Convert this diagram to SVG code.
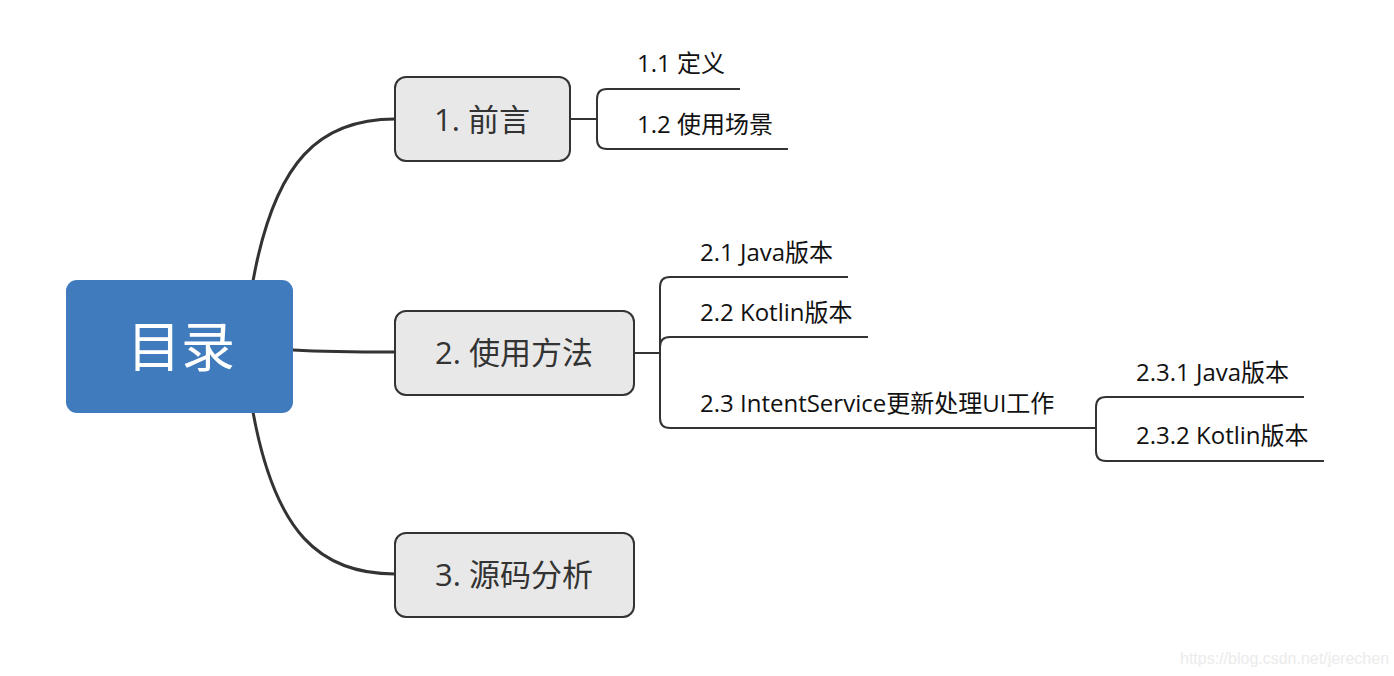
<svg xmlns="http://www.w3.org/2000/svg" width="1394" height="676" viewBox="0 0 1394 676">
<style>
.main{fill:none;stroke:#333333;stroke-width:3;stroke-linecap:round}
.sub{fill:none;stroke:#333333;stroke-width:2}
.box{fill:#e8e8e8;stroke:#333333;stroke-width:2}
.t1{font-family:"Open Sans","Noto Sans CJK SC",sans-serif;font-size:31px;fill:#333333;text-anchor:middle}
.t2{font-family:"Open Sans","Noto Sans CJK SC",sans-serif;font-size:24px;fill:#111111}
</style>
<rect width="1394" height="676" fill="#ffffff"/>
<g id="connectors">
<path class="main" d="M253,281 C275,160 320,119 395,119"/>
<path class="main" d="M293,350 C330,352 360,352 395,352"/>
<path class="main" d="M253,412 C275,533 320,574 395,574"/>
<path class="sub" d="M570,119 H597"/>
<path class="sub" d="M740,89 H607 Q597,89 597,99 V139 Q597,149 607,149 H788"/>
<path class="sub" d="M634,353 H660"/>
<path class="sub" d="M848,277 H670 Q660,277 660,287 V418 Q660,428 670,428 H1096"/>
<path class="sub" d="M868,337 H670 Q660,337 660,347"/>
<path class="sub" d="M1304,397 H1106 Q1096,397 1096,407 V451 Q1096,461 1106,461 H1324"/>
</g>
<g id="root">
<rect x="66" y="280" width="227" height="133" rx="11" fill="#3f7bbd"/>
<text x="181" y="367" font-family="'Noto Sans CJK SC',sans-serif" font-size="54" fill="#ffffff" text-anchor="middle">目录</text>
</g>
<g id="n1">
<rect class="box" x="395" y="77" width="175" height="84" rx="11"/>
<text class="t1" x="482" y="131">1. 前言</text>
</g>
<g id="n2">
<rect class="box" x="395" y="311" width="239" height="84" rx="11"/>
<text class="t1" x="514" y="364">2. 使用方法</text>
</g>
<g id="n3">
<rect class="box" x="395" y="533" width="239" height="84" rx="11"/>
<text class="t1" x="514" y="586">3. 源码分析</text>
</g>
<g id="n1_1"><text class="t2" x="637" y="72">1.1 定义</text></g>
<g id="n1_2"><text class="t2" x="637" y="133">1.2 使用场景</text></g>
<g id="n2_1"><text class="t2" x="700" y="261">2.1 Java版本</text></g>
<g id="n2_2"><text class="t2" x="700" y="321">2.2 Kotlin版本</text></g>
<g id="n2_3"><text class="t2" x="700" y="412">2.3 IntentService更新处理UI工作</text></g>
<g id="n2_3_1"><text class="t2" x="1136" y="381">2.3.1 Java版本</text></g>
<g id="n2_3_2"><text class="t2" x="1136" y="444">2.3.2 Kotlin版本</text></g>
<text x="1180" y="664" font-family="'Liberation Sans',sans-serif" font-size="16" fill="#ebebeb">https://blog.csdn.net/jerechen</text>
</svg>
